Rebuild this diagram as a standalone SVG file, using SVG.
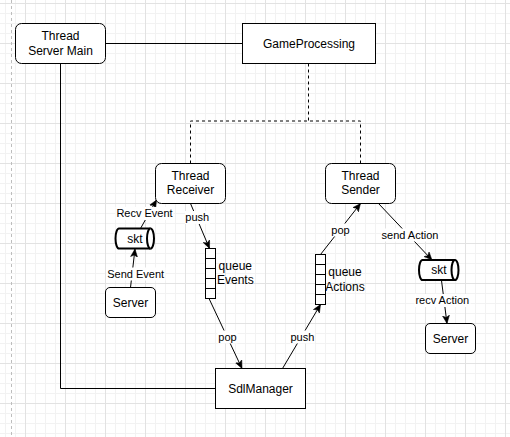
<svg xmlns="http://www.w3.org/2000/svg" width="510" height="437" viewBox="0 0 510 437">
<style>
.node{fill:#fff;stroke:#000;stroke-width:1}
.cyl{fill:#fff;stroke:#000;stroke-width:2}
.t{font-family:"Liberation Sans",Arial,Helvetica,sans-serif;font-size:12px;fill:#000;text-anchor:middle}
.lt{font-family:"Liberation Sans",Arial,Helvetica,sans-serif;font-size:11px;fill:#000;text-anchor:middle}
.lbg{fill:#fff;stroke:none}
.e{fill:none;stroke:#000;stroke-width:1}
.ea{fill:none;stroke:#000;stroke-width:1;marker-end:url(#arr)}
.d{fill:none;stroke:#000;stroke-width:1;stroke-dasharray:3 3}
</style>
<defs>
<pattern id="minor" width="10" height="10" x="5" y="3" patternUnits="userSpaceOnUse">
<path d="M0 0.5H10M0.5 0V10" fill="none" stroke="#f2f2f2" stroke-width="1"/>
</pattern>
<pattern id="major" width="40" height="40" x="25" y="3" patternUnits="userSpaceOnUse">
<path d="M0 0.5H40M0.5 0V40" fill="none" stroke="#e2e2e2" stroke-width="1"/>
</pattern>
<marker id="arr" viewBox="-8 -4 8 8" refX="0" refY="0" markerWidth="8" markerHeight="8" markerUnits="userSpaceOnUse" orient="auto">
<path d="M0,0 L-8,-3.5 L-6,0 L-8,3.5 Z" fill="#000" stroke="#000" stroke-width="0.5"/>
</marker>
</defs>
<g id="background">
<rect width="510" height="437" fill="#fff"/>
<rect width="510" height="437" fill="url(#minor)"/>
<rect width="510" height="437" fill="url(#major)"/>
<path d="M11.5 0V437" stroke="#bdbdbd" stroke-width="1" stroke-dasharray="3 3"/>
</g>
<g id="connectors">
<path class="e" d="M105.5 43.5H242.5"/>
<path class="e" d="M60.5 63.5V388.5H215.5"/>
<path class="d" d="M308.5 63.5V121"/>
<path class="d" d="M190.5 163.5V121H360.5V163.5"/>
<path class="ea" d="M140.5 228.5L156.5 200"/>
<path class="ea" d="M130.5 287.5L135 249"/>
<path class="ea" d="M190.5 203.5L209.5 248.5"/>
<path class="ea" d="M209 298.5L242 368.5"/>
<path class="ea" d="M282.5 368.5L320.5 304.5"/>
<path class="ea" d="M320.5 254.5L360.5 203.5"/>
<path class="ea" d="M378.5 203.5L432 260"/>
<path class="ea" d="M441.5 280.5L447 323.5"/>
<rect class="lbg" x="115.5" y="207" width="58" height="13"/>
<text class="lt" x="144.5" y="217">Recv Event</text>
<rect class="lbg" x="106.5" y="267.5" width="59" height="13"/>
<text class="lt" x="135.7" y="277.5">Send Event</text>
<rect class="lbg" x="185" y="211" width="25" height="13"/>
<text class="lt" x="197.3" y="221">push</text>
<rect class="lbg" x="217.5" y="330.5" width="20" height="13"/>
<text class="lt" x="227.5" y="340.7">pop</text>
<rect class="lbg" x="290" y="330.5" width="25" height="13"/>
<text class="lt" x="302.4" y="340.5">push</text>
<rect class="lbg" x="330.5" y="223.5" width="20" height="13"/>
<text class="lt" x="340.5" y="233.5">pop</text>
<rect class="lbg" x="381" y="228.5" width="58" height="13"/>
<text class="lt" x="410" y="238.5">send Action</text>
<rect class="lbg" x="414.5" y="294" width="56" height="13"/>
<text class="lt" x="442.3" y="304">recv Action</text>
</g>
<g id="server-main">
<rect class="node" x="15.5" y="23.5" width="90" height="40" rx="6"/>
<text class="t" x="60.5" y="40">Thread</text>
<text class="t" x="60.5" y="54.5">Server Main</text>
</g>
<g id="game-processing">
<rect class="node" x="242.5" y="23.5" width="133" height="40"/>
<text class="t" x="309" y="47.5">GameProcessing</text>
</g>
<g id="thread-receiver">
<rect class="node" x="155.5" y="163.5" width="70" height="40" rx="6"/>
<text class="t" x="190.5" y="179.5">Thread</text>
<text class="t" x="190.5" y="194">Receiver</text>
</g>
<g id="thread-sender">
<rect class="node" x="325.5" y="163.5" width="70" height="40" rx="6"/>
<text class="t" x="360.5" y="179.5">Thread</text>
<text class="t" x="360.5" y="194">Sender</text>
</g>
<g id="skt-left">
<path class="cyl" d="M119 228.5H150.5A3.5 10 0 0 1 150.5 248.5H119A3.5 10 0 0 1 119 228.5Z"/>
<path class="cyl" d="M150.5 228.5A3.5 10 0 0 0 150.5 248.5"/>
<text class="t" x="135" y="242.5">skt</text>
</g>
<g id="server-left">
<rect class="node" x="105.5" y="287.5" width="50" height="30" rx="4.5"/>
<text class="t" x="130.5" y="306.8">Server</text>
</g>
<g id="queue-events">
<rect class="node" x="205.5" y="248.5" width="10" height="50"/>
<path class="e" d="M205.5 258.5H215.5M205.5 268.5H215.5M205.5 278.5H215.5M205.5 288.5H215.5"/>
<text class="t" x="235.3" y="269.5">queue</text>
<text class="t" x="235.3" y="284">Events</text>
</g>
<g id="queue-actions">
<rect class="node" x="315.5" y="254.5" width="10" height="50"/>
<path class="e" d="M315.5 264.5H325.5M315.5 274.5H325.5M315.5 284.5H325.5M315.5 294.5H325.5"/>
<text class="t" x="345" y="276">queue</text>
<text class="t" x="345" y="290.5">Actions</text>
</g>
<g id="skt-right">
<path class="cyl" d="M422.5 260H455A3.5 10 0 0 1 455 280H422.5A3.5 10 0 0 1 422.5 260Z"/>
<path class="cyl" d="M455 260A3.5 10 0 0 0 455 280"/>
<text class="t" x="439" y="274">skt</text>
</g>
<g id="server-right">
<rect class="node" x="425.5" y="323.5" width="50" height="30" rx="4.5"/>
<text class="t" x="450.5" y="342.8">Server</text>
</g>
<g id="sdl-manager">
<rect class="node" x="215.5" y="368.5" width="90" height="40"/>
<text class="t" x="260.5" y="392.5">SdlManager</text>
</g>
</svg>
